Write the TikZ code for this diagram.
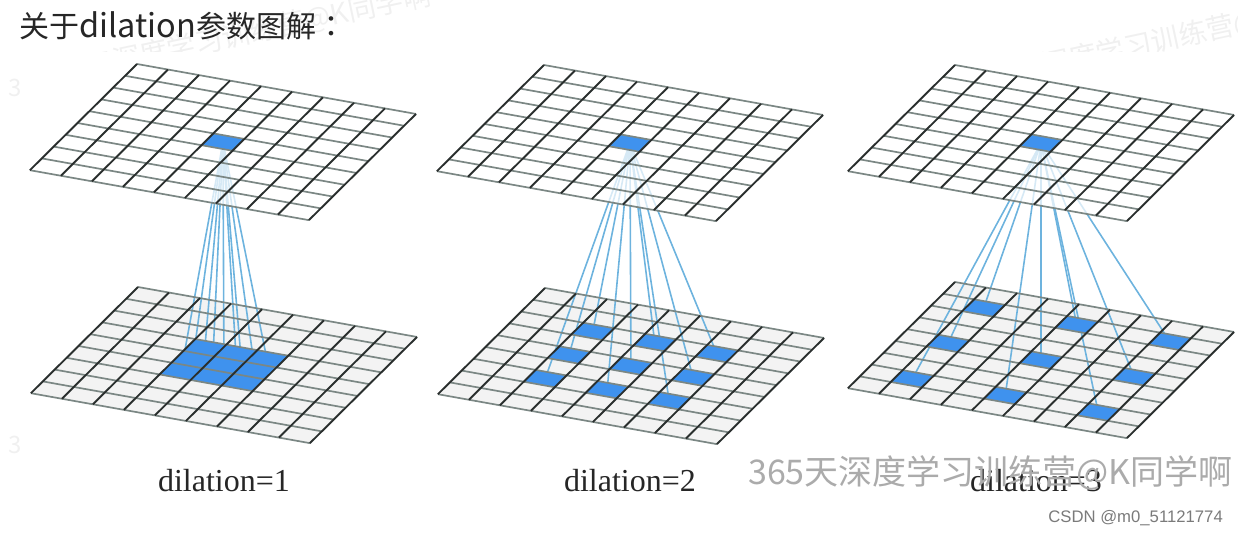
\documentclass[tikz,border=0pt]{standalone}
\usepackage{fontspec}
\setmainfont{Liberation Serif}
\newfontfamily\cjk{Noto Sans CJK SC}
\newfontfamily\cjktc{Noto Sans CJK TC}
\newfontfamily\arialish{Liberation Sans}
\usetikzlibrary{positioning}
\definecolor{cellblue}{HTML}{3F92EE}
\definecolor{fanblue}{HTML}{6DB3DE}
\definecolor{rowgray}{HTML}{7B8784}
\definecolor{colgray}{HTML}{2A2F2E}
\definecolor{planegray}{HTML}{F3F3F3}
\tikzset{
  plane/.style={shift={#1}, x={(31pt,-5.55pt)}, y={(-11.9pt,-11.8pt)}},
  rowline/.style={draw=rowgray, line width=1.7pt},
  colline/.style={draw=colgray, line width=1.9pt},
  hitcell/.style={fill=cellblue},
  fanline/.style={draw=fanblue, line width=1.6pt},
  caption/.style={font=\fontsize{32}{36}\selectfont, text=black!85, anchor=base},
  stamp/.style={font=\cjk\fontsize{28}{30}\selectfont, text=black!6, anchor=west, rotate=12, inner sep=0pt},
}
% one plane of nine by nine cells
\newcommand{\planelines}{%
  \foreach \k in {0,...,9} \draw[rowline] (0,\k) -- (9,\k);
  \foreach \k in {0,...,9} \draw[colline] (\k,0) -- (\k,9);
}

\begin{document}
\begin{tikzpicture}[x=1pt, y=-1pt]
  \useasboundingbox (0,0) rectangle (1238,534);

  % faint stamps behind the title
  \begin{scope}
    \clip (0,0) rectangle (1238,52);
    \node[stamp] (stampleft) at (40,78) {365天深度学习训练营@K同学啊};
    \node[stamp] (stampright) at (969,82) {365天深度学习训练营@K同学啊};
  \end{scope}
  \node[stamp, rotate=-12, font=\cjk\fontsize{24}{26}\selectfont] (stampa) at (8,88) {3};
  \node[stamp, rotate=-12, font=\cjk\fontsize{24}{26}\selectfont] (stampb) at (8,445) {3};

  \node[anchor=base west, inner sep=0pt, text=black!85, font=\cjk\fontsize{30}{32}\selectfont] (title) at (19,38) {关于{\fontsize{32.5}{32}\selectfont dilation}参数图解{\cjktc：}};

  \foreach \idx/\tx/\ty/\bx/\by/\cells in {1/137/64/138/287/{3,4,5}, 2/544/65/545/288/{2,4,6}, 3/955/65/955/282/{1,4,7}} {
    % lower plane
    \begin{scope}[plane={(\bx,\by)}]
      \fill[planegray] (0,0) -- (9,0) -- (9,9) -- (0,9) -- cycle;
      \foreach \i in \cells \foreach \j in \cells
        \coordinate (hit\idx-\i-\j) at (\i+.5,\j+.5);
    \end{scope}
    \begin{scope}[plane={(\tx,\ty)}]
      \coordinate (apex\idx) at (4.5,4.5);
    \end{scope}
    % fan sits under the cells and the upper plane veils it
    \foreach \i in \cells \foreach \j in \cells
      \draw[fanline] (apex\idx) -- (hit\idx-\i-\j);
    \begin{scope}[plane={(\bx,\by)}]
      \foreach \i in \cells \foreach \j in \cells
        \fill[hitcell] (\i,\j) -- (\i+1,\j) -- (\i+1,\j+1) -- (\i,\j+1) -- cycle;
      \planelines
    \end{scope}
    \begin{scope}[plane={(\tx,\ty)}]
      \fill[white, fill opacity=.72] (0,0) -- (9,0) -- (9,9) -- (0,9) -- cycle;
      \fill[hitcell] (4,4) -- (5,4) -- (5,5) -- (4,5) -- cycle;
      \planelines
    \end{scope}
  }

  \node[caption] (cap1) at (224,491) {dilation=1};
  \node[caption] (cap2) at (630,491) {dilation=2};
  \node[caption] (cap3) at (1036,491) {dilation=3};

  \node[anchor=base west, inner sep=0pt, text=black!33, font=\cjk\fontsize{34}{36}\selectfont] (mark) at (748,484) {365天深度学习训练营@K同学啊};
  \node[anchor=base east, inner sep=0pt, text=black!52, font=\arialish\fontsize{16.7}{18}\selectfont] (csdn) at (1223,522) {CSDN @m0\_51121774};
\end{tikzpicture}
\end{document}
